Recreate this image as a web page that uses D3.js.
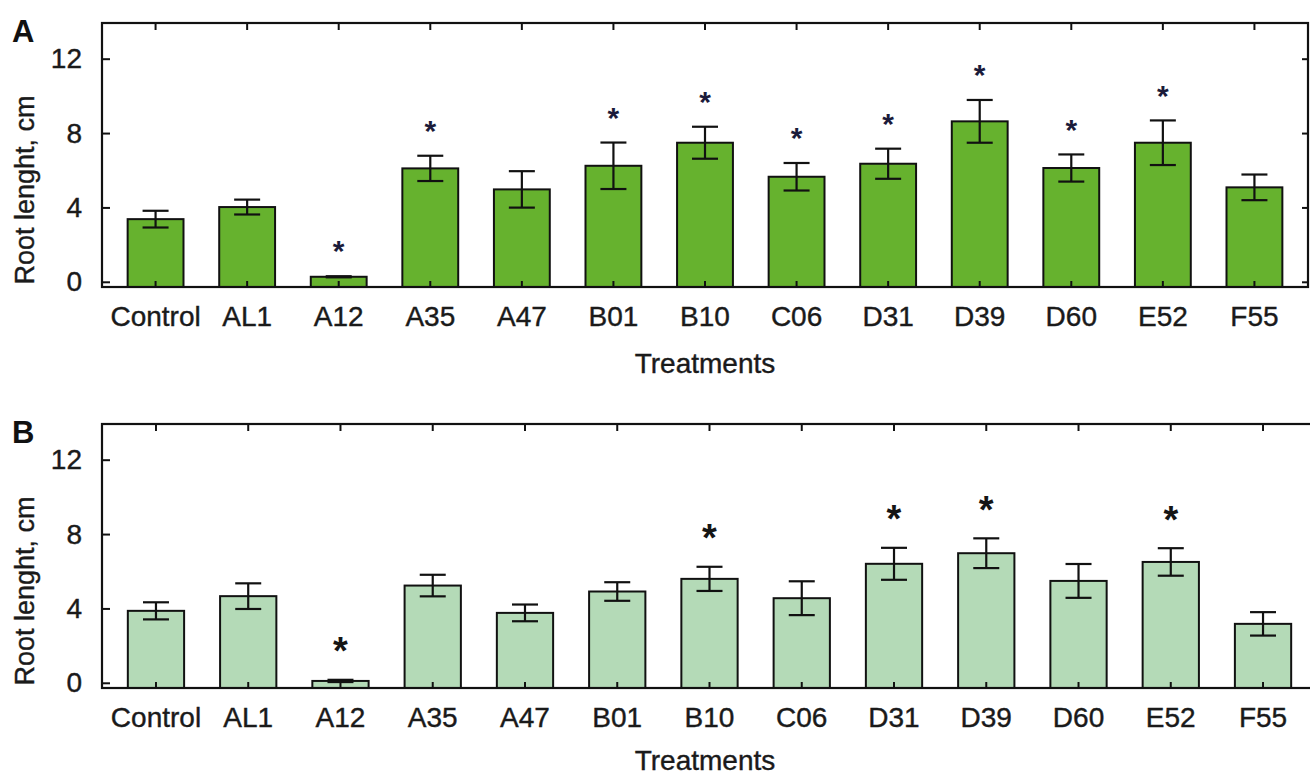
<!DOCTYPE html>
<html>
<head>
<meta charset="utf-8">
<script src="https://cdn.jsdelivr.net/npm/d3@7"></script>
<style>
  body { margin: 0; background: #fff; }
  svg { display: block; font-family: Arial, "Liberation Sans", sans-serif; }
</style>
</head>
<body>
<div id="chart"></div>
<script>
// data
var categories = ["Control", "AL1", "A12", "A35", "A47", "B01", "B10", "C06", "D31", "D39", "D60", "E52", "F55"];

var meanA = [3.37, 4.02, 0.27, 6.1, 4.97, 6.24, 7.48, 5.65, 6.35, 8.63, 6.12, 7.48, 5.08];
var errA  = [0.45, 0.4, 0.03, 0.68, 0.98, 1.25, 0.86, 0.74, 0.81, 1.15, 0.73, 1.2, 0.69];
var sigA  = ["A12", "A35", "B01", "B10", "C06", "D31", "D39", "D60", "E52"];

var meanB = [3.87, 4.66, 0.1, 5.23, 3.76, 4.91, 5.59, 4.55, 6.4, 6.97, 5.48, 6.5, 3.17];
var errB  = [0.46, 0.69, 0.06, 0.58, 0.45, 0.5, 0.65, 0.91, 0.86, 0.8, 0.91, 0.74, 0.63];
var sigB  = ["A12", "B10", "D31", "D39", "E52"];

var yTicks = [0, 4, 8, 12];

var W = 1310, H = 778;
var svg = d3.select("#chart").append("svg")
    .attr("width", W)
    .attr("height", H);

var panels = [
  {letter: "A", mean: meanA, err: errA, sig: sigA, fill: "#66b22e", titleGap: 86,
   top: 23, bottom: 287, left: 102, right: 1308, starFont: "bold", starSize: 30, starGap: 32, starColor: "#1b1b3a"},
  {letter: "B", mean: meanB, err: errB, sig: sigB, fill: "#b4dab7", titleGap: 82,
   top: 424, bottom: 688, left: 102, right: 1317, starFont: "bold", starSize: 38, starGap: 37, starColor: "#151515"}
];

panels.forEach(function(p) {
  var x = d3.scaleBand()
      .domain(categories)
      .range([p.left, p.right])
      .paddingInner(0.39)
      .paddingOuter(0.28);

  var y = d3.scaleLinear()
      .domain([-0.28, 13.92])
      .range([p.bottom, p.top]);

  var g = svg.append("g");
  var rows = categories.map(function(c, i) {
    return {cat: c, m: p.mean[i], e: p.err[i], sig: p.sig.indexOf(c) >= 0};
  });

  //bars
  g.selectAll("rect.bar")
      .data(rows)
      .enter()
      .append("rect")
      .attr("class", "bar")
      .attr("x", function(d) { return x(d.cat); })
      .attr("width", x.bandwidth())
      .attr("y", function(d) { return y(d.m); })
      .attr("height", function(d) { return p.bottom - y(d.m); })
      .attr("fill", p.fill)
      .attr("stroke", "#111")
      .attr("stroke-width", 2);

  //error bars
  var cap = 13;
  var eb = g.selectAll("g.err")
      .data(rows)
      .enter()
      .append("g")
      .attr("class", "err")
      .attr("stroke", "#111")
      .attr("stroke-width", 2.2);
  eb.append("line")
      .attr("x1", function(d) { return x(d.cat) + x.bandwidth() / 2; })
      .attr("x2", function(d) { return x(d.cat) + x.bandwidth() / 2; })
      .attr("y1", function(d) { return y(d.m - d.e); })
      .attr("y2", function(d) { return y(d.m + d.e); });
  eb.append("line")
      .attr("x1", function(d) { return x(d.cat) + x.bandwidth() / 2 - cap; })
      .attr("x2", function(d) { return x(d.cat) + x.bandwidth() / 2 + cap; })
      .attr("y1", function(d) { return y(d.m + d.e); })
      .attr("y2", function(d) { return y(d.m + d.e); });
  eb.append("line")
      .attr("x1", function(d) { return x(d.cat) + x.bandwidth() / 2 - cap; })
      .attr("x2", function(d) { return x(d.cat) + x.bandwidth() / 2 + cap; })
      .attr("y1", function(d) { return y(d.m - d.e); })
      .attr("y2", function(d) { return y(d.m - d.e); });

  //significance marks
  g.selectAll("text.sig")
      .data(rows.filter(function(d) { return d.sig; }))
      .enter()
      .append("text")
      .attr("class", "sig")
      .attr("x", function(d) { return x(d.cat) + x.bandwidth() / 2; })
      .attr("y", function(d) { return y(d.m + d.e) - p.starGap + p.starSize * 0.57; })
      .attr("text-anchor", "middle")
      .attr("font-size", p.starSize)
      .attr("font-weight", p.starFont)
      .attr("fill", p.starColor)
      .text("*");

  //axes
  var bottomAxis = g.append("g")
      .attr("transform", "translate(0," + p.bottom + ")")
      .call(d3.axisBottom(x).tickSizeInner(-6).tickSizeOuter(0).tickPadding(19));
  var leftAxis = g.append("g")
      .attr("transform", "translate(" + p.left + ",0)")
      .call(d3.axisLeft(y).tickValues(yTicks).tickSizeInner(-8).tickSizeOuter(0).tickPadding(20));
  var topAxis = g.append("g")
      .attr("transform", "translate(0," + p.top + ")")
      .call(d3.axisTop(x).tickSizeInner(-7).tickSizeOuter(0).tickFormat(""));
  var rightAxis = g.append("g")
      .attr("transform", "translate(" + p.right + ",0)")
      .call(d3.axisRight(y).tickValues(yTicks).tickSizeInner(-6).tickSizeOuter(0).tickFormat(""));

  [bottomAxis, leftAxis, topAxis, rightAxis].forEach(function(a) {
    a.select(".domain").remove();
    a.selectAll(".tick line").attr("stroke", "#111").attr("stroke-width", 2);
    a.selectAll("text")
        .attr("font-size", 28)
        .attr("font-family", "Arial, 'Liberation Sans', sans-serif")
        .attr("fill", "#1a1a1a")
        .attr("stroke", "#1a1a1a")
        .attr("stroke-width", 0.4);
  });

  //frame
  g.append("rect")
      .attr("x", p.left)
      .attr("y", p.top)
      .attr("width", p.right - p.left)
      .attr("height", p.bottom - p.top)
      .attr("fill", "none")
      .attr("stroke", "#111")
      .attr("stroke-width", 2.2);

  //titles
  g.append("text")
      .attr("transform", "translate(34," + (p.top + 167) + ") rotate(-90)")
      .attr("text-anchor", "middle")
      .attr("font-size", 27)
      .attr("fill", "#1a1a1a")
      .attr("stroke", "#1a1a1a")
      .attr("stroke-width", 0.4)
      .text("Root lenght, cm");

  g.append("text")
      .attr("x", (p.left + 1308) / 2)
      .attr("y", p.bottom + p.titleGap)
      .attr("text-anchor", "middle")
      .attr("font-size", 28)
      .attr("fill", "#1a1a1a")
      .attr("stroke", "#1a1a1a")
      .attr("stroke-width", 0.4)
      .text("Treatments");

  g.append("text")
      .attr("x", 12)
      .attr("y", p.top + 19)
      .attr("font-size", 31)
      .attr("font-weight", "bold")
      .attr("fill", "#111")
      .text(p.letter);
});
</script>
</body>
</html>
